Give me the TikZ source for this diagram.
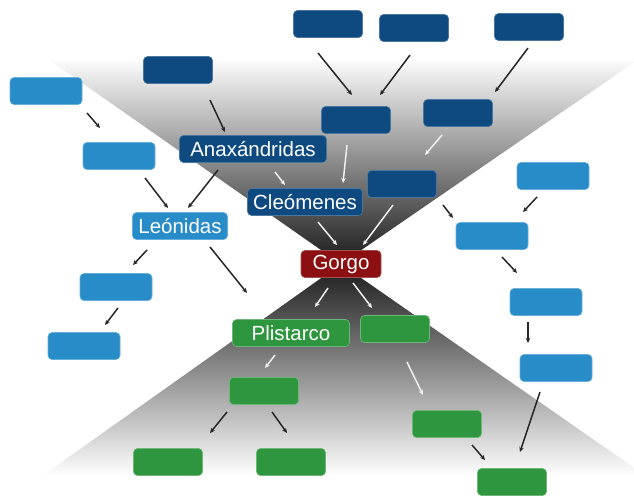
\documentclass[tikz,border=0pt]{standalone}
\usepackage{fontspec}
\setmainfont{Liberation Sans}
\usetikzlibrary{arrows.meta, calc}
\definecolor{navy}{RGB}{14,74,128}
\definecolor{sky}{RGB}{40,140,200}
\definecolor{leaf}{RGB}{46,150,62}
\definecolor{wine}{RGB}{140,16,18}
\tikzset{
>={Stealth[length=5pt,width=4.5pt]},
box/.style={%
    rectangle,
    minimum width=69pt,
    minimum height=27pt,
    inner sep=0pt,
    rounded corners=4pt,
    line width=0.6pt,
    text=white,
    % Font
    font=\fontsize{20.5}{24}\selectfont
},
navybox/.style={box, fill=navy, draw=navy!75!white},
skybox/.style={box, minimum width=72pt, fill=sky, draw=sky!70!white},
leafbox/.style={box, fill=leaf, draw=leaf!70!white},
winebox/.style={box, fill=wine, draw=wine!75!white},
link/.style={->, line width=1.5pt, black!85},
pale/.style={->, line width=1.5pt, white!94!black},
}

\begin{document}
\begin{tikzpicture}[x=1pt, y=-1pt]
	\useasboundingbox (0,0) rectangle (634,498);
	% hourglass
	\shade[top color=white, middle color=black!35, bottom color=black!90]
		(45,57) -- (642,57) -- (341,264) -- cycle;
	\shade[top color=black!90, middle color=black!42, bottom color=white]
		(341,264) -- (646,476) -- (42,476) -- cycle;

	\node[navybox] (d1) at (178,70) {};
	\node[navybox] (d2) at (328,24) {};
	\node[navybox] (d3) at (414,28) {};
	\node[navybox] (d4) at (529,27) {};
	\node[navybox] (d5) at (356,120) {};
	\node[navybox] (d6) at (458,113) {};
	\node[navybox] (d7) at (402,184) {};
	\node[navybox, minimum width=147pt] (anax) at (253,149) {Anaxándridas};
	\node[navybox, minimum width=115pt] (cleo) at (305,202) {Cleómenes};
	\node[skybox] (l1) at (46,91) {};
	\node[skybox] (l2) at (119,156) {};
	\node[skybox, minimum width=95pt] (leon) at (180,226) {Leónidas};
	\node[skybox] (l3) at (116,287) {};
	\node[skybox] (l4) at (84,346) {};
	\node[skybox] (r1) at (553,176) {};
	\node[skybox] (r2) at (492,236) {};
	\node[skybox] (r3) at (546,302) {};
	\node[skybox] (r4) at (556,368) {};
	\node[winebox, minimum width=80pt] (gorgo) at (341,264) {Gorgo};
	\node[leafbox, minimum width=117pt] (plis) at (291,333) {Plistarco};
	\node[leafbox] (g1) at (395,329) {};
	\node[leafbox] (g2) at (264,391) {};
	\node[leafbox] (g3) at (168,462) {};
	\node[leafbox] (g4) at (291,462) {};
	\node[leafbox] (g5) at (447,424) {};
	\node[leafbox] (g6) at (512,482) {};

	\foreach \a/\ax/\ay/\b/\bx/\by in {l1/41/22/l2/-19/-28, d1/32/30/anax/-28/-17,
		l2/26/22/leon/-12/-18, anax/-35/21/leon/8/-18, d2/-10/29/d5/-4/-25,
		d3/-4/27/d5/24/-25, d4/-1/21/d6/37/-21, d7/41/21/r2/-39/-18,
		r1/-16/21/r2/31/-24, leon/-33/24/l3/17/-22, leon/30/21/plis/-44/-40,
		l3/2/21/l4/21/-21, g2/-37/21/g3/42/-29, g2/8/21/g4/-4/-29,
		r2/10/21/r3/-29/-29, r3/-18/20/r4/-28/-25, r4/-16/24/g6/8/-30,
		g5/25/21/g6/-27/-22}
		\draw[link] ($(\a)+(\ax,\ay)$) -- ($(\b)+(\bx,\by)$);
	\foreach \a/\ax/\ay/\b/\bx/\by in {anax/22/23/cleo/-20/-17, d5/-9/25/cleo/38/-19,
		d6/-16/22/d7/23/-29, cleo/13/20/gorgo/-4/-19, d7/-9/21/gorgo/22/-19,
		gorgo/-13/24/plis/24/-26, gorgo/12/19/g1/-23/-21, plis/-16/22/g2/1/-23,
		g1/12/33/g5/-24/-29}
		\draw[pale] ($(\a)+(\ax,\ay)$) -- ($(\b)+(\bx,\by)$);
\end{tikzpicture}
\end{document}
